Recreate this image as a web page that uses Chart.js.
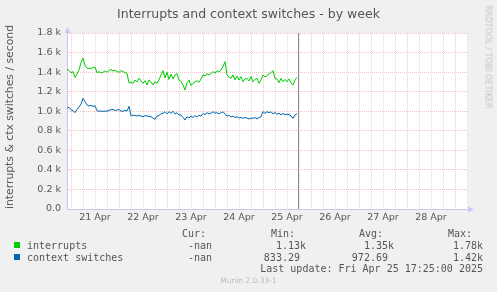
<!DOCTYPE html>
<html>
<head>
<meta charset="utf-8">
<script src="https://cdn.jsdelivr.net/npm/chart.js@4"></script>
<style>
    body { margin: 0; background: #f0f0f0; width: 497px; height: 292px; overflow: hidden; position: relative; font-family: "DejaVu Sans", sans-serif; }
    canvas { position: absolute; left: 0; top: 0; }
    .txt { position: absolute; white-space: pre; color: #555; }
    .mono { font-family: "DejaVu Sans Mono", monospace; font-size: 10px; line-height: 12px; }
    .num { text-align: right; }
    .swatch { position: absolute; width: 6px; height: 6px; }
</style>
</head>
<body>
<canvas id="chart" width="497" height="292"></canvas>

<div class="txt" style="left:0; width:497px; top:6px; text-align:center; font-size:12.5px; line-height:15px;">Interrupts and context switches - by week</div>
<div class="txt" style="left:10px; top:117px; font-size:10.8px; line-height:12px; transform: translate(-50%, -50%) rotate(-90deg);">interrupts &amp; ctx switches / second</div>
<div class="txt" style="left:488px; top:57px; font-size:8px; line-height:9px; color:#c4c4c4; transform: translate(-50%, -50%) rotate(90deg);">RRDTOOL / TOBI OETIKER</div>

<!-- legend / stats block -->
<div class="txt mono" style="left:182px; top:228px;">Cur:</div>
<div class="txt mono" style="left:271px; top:228px;">Min:</div>
<div class="txt mono" style="left:359px; top:228px;">Avg:</div>
<div class="txt mono" style="left:448px; top:228px;">Max:</div>

<div class="swatch" style="left:14px; top:242px; background:#00cc00;"></div>
<div class="txt mono" style="left:27px; top:240px;">interrupts</div>
<div class="txt mono" style="left:188px; top:240px;">-nan</div>
<div class="txt mono num" style="left:200px; width:106px; top:240px;">1.13k</div>
<div class="txt mono num" style="left:290px; width:104px; top:240px;">1.35k</div>
<div class="txt mono num" style="left:380px; width:103px; top:240px;">1.78k</div>

<div class="swatch" style="left:14px; top:254px; background:#0066b3;"></div>
<div class="txt mono" style="left:27px; top:252px;">context switches</div>
<div class="txt mono" style="left:188px; top:252px;">-nan</div>
<div class="txt mono num" style="left:200px; width:106px; top:252px;">833.29 </div>
<div class="txt mono num" style="left:290px; width:104px; top:252px;">972.69 </div>
<div class="txt mono num" style="left:380px; width:103px; top:252px;">1.42k</div>

<div class="txt mono num" style="left:200px; width:283px; top:263px;">Last update: Fri Apr 25 17:25:00 2025</div>
<div class="txt" style="left:0; width:497px; top:276px; text-align:center; font-size:7.5px; line-height:10px; color:#bbb;">Munin 2.0.33-1</div>

<script>
// hours relative to Mon 21 Apr 00:00, one sample per hour
const hours = Array.from({ length: 116 }, (_, i) => i - 2);

const interrupts = [
    1429, 1415, 1394, 1405, 1345, 1381, 1422, 1497, 1541, 1470,
    1439, 1439, 1435, 1450, 1452, 1394, 1405, 1390, 1398, 1412,
    1400, 1415, 1429, 1410, 1420, 1405, 1398, 1415, 1405, 1395,
    1388, 1290, 1295, 1285, 1319, 1300, 1337, 1310, 1285, 1312,
    1268, 1320, 1300, 1268, 1302, 1285, 1320, 1370, 1415, 1340,
    1400, 1325, 1380, 1330, 1371, 1385, 1320, 1305, 1268, 1217,
    1290, 1319, 1262, 1285, 1300, 1312, 1295, 1330, 1371, 1360,
    1385, 1370, 1385, 1405, 1390, 1415, 1400, 1420, 1456, 1507,
    1371, 1345, 1336, 1371, 1320, 1360, 1319, 1353, 1302, 1330,
    1336, 1310, 1353, 1302, 1326, 1336, 1285, 1319, 1371, 1350,
    1365, 1381, 1394, 1415, 1336, 1330, 1292, 1336, 1302, 1326,
    1300, 1330, 1290, 1268, 1319, 1347
];

const contextSwitches = [
    1030, 1040, 1015, 1006, 985, 1020, 1040, 1074, 1132, 1098,
    1064, 1053, 1060, 1050, 1055, 1006, 1000, 1003, 998, 1002,
    1000, 1010, 1015, 1020, 1006, 1012, 1018, 1002, 998, 1010,
    1000, 1050, 951, 961, 955, 951, 961, 950, 944, 955,
    951, 947, 944, 930, 917, 951, 955, 975, 980, 995,
    972, 995, 980, 1000, 972, 985, 961, 961, 937, 910,
    944, 930, 952, 935, 955, 940, 960, 950, 978, 965,
    985, 972, 980, 995, 980, 985, 972, 985, 995, 970,
    951, 958, 940, 951, 935, 944, 930, 937, 927, 937,
    930, 920, 930, 927, 935, 920, 935, 944, 995, 978,
    995, 985, 995, 972, 988, 968, 980, 961, 978, 962,
    970, 965, 952, 927, 961, 975
];

const dayLabels = ['21 Apr', '22 Apr', '23 Apr', '24 Apr', '25 Apr', '26 Apr', '27 Apr', '28 Apr'];
const nowHour = 113.42; // Fri 25 Apr 17:25

const majorGrid = 'rgba(235, 130, 130, 0.5)';
const minorGrid = 'rgba(170, 170, 170, 0.45)';
const axisColor = '#c8c8f4';

// white plot area, "now" rule and axis arrows
const munin = {
    id: 'munin',
    beforeDraw(chart) {
        const { ctx, chartArea: a } = chart;
        ctx.save();
        ctx.fillStyle = '#ffffff';
        ctx.fillRect(a.left, a.top, a.right - a.left, a.bottom - a.top);
        ctx.restore();
    },
    beforeDatasetsDraw(chart) {
        const { ctx, chartArea: a } = chart;
        const x = Math.round(chart.scales.x.getPixelForValue(nowHour)) + 0.5;
        ctx.save();
        ctx.strokeStyle = '#8c8c8c';
        ctx.lineWidth = 1;
        ctx.beginPath();
        ctx.moveTo(x, a.top);
        ctx.lineTo(x, a.bottom);
        ctx.stroke();
        ctx.restore();
    },
    afterDraw(chart) {
        const { ctx, chartArea: a } = chart;
        ctx.save();
        ctx.fillStyle = axisColor;
        ctx.beginPath();
        ctx.moveTo(a.left + 0.5, a.top - 6);
        ctx.lineTo(a.left - 2.5, a.top);
        ctx.lineTo(a.left + 3.5, a.top);
        ctx.fill();
        ctx.beginPath();
        ctx.moveTo(a.right + 6, a.bottom + 0.5);
        ctx.lineTo(a.right, a.bottom - 2.5);
        ctx.lineTo(a.right, a.bottom + 3.5);
        ctx.fill();
        ctx.restore();
    }
};

Chart.defaults.font.family = '"DejaVu Sans", sans-serif';
Chart.defaults.color = '#555';

new Chart(document.getElementById('chart'), {
    type: 'line',
    data: {
        labels: hours,
        datasets: [
            {
                label: 'interrupts',
                data: hours.map((h, i) => ({ x: h, y: interrupts[i] })),
                borderColor: '#00cc00',
                borderWidth: 1,
                pointRadius: 0,
                tension: 0
            },
            {
                label: 'context switches',
                data: hours.map((h, i) => ({ x: h, y: contextSwitches[i] })),
                borderColor: '#0066b3',
                borderWidth: 1,
                pointRadius: 0,
                tension: 0
            }
        ]
    },
    options: {
        responsive: false,
        animation: false,
        devicePixelRatio: 1,
        layout: { padding: { left: 0, top: 33, right: 29, bottom: 0 } },
        plugins: {
            legend: { display: false },
            tooltip: { enabled: false }
        },
        scales: {
            x: {
                type: 'linear',
                min: -2,
                max: 198.5,
                afterBuildTicks: scale => {
                    const ticks = [];
                    for (let h = 0; h <= 198; h += 6) ticks.push({ value: h });
                    scale.ticks = ticks;
                },
                afterFit: scale => { scale.height = 83; },
                ticks: {
                    autoSkip: false,
                    maxRotation: 0,
                    padding: 3,
                    font: { size: 9.5 },
                    callback: value => (value % 24 === 12 ? dayLabels[(value - 12) / 24] : '')
                },
                grid: {
                    drawTicks: false,
                    color: ctx => (ctx.tick && ctx.tick.value % 24 === 0 ? majorGrid : minorGrid)
                },
                border: { color: axisColor, dash: [1, 1] }
            },
            y: {
                min: 0,
                max: 1800,
                afterFit: scale => { scale.width = 67; },
                ticks: {
                    stepSize: 100,
                    padding: 6,
                    font: { size: 9.5 },
                    callback: value => {
                        if (value % 200 !== 0) return '';
                        return value === 0 ? '0.0' : (value / 1000).toFixed(1) + ' k';
                    }
                },
                grid: {
                    drawTicks: false,
                    color: ctx => (ctx.tick && ctx.tick.value % 200 === 0 ? majorGrid : minorGrid)
                },
                border: { color: axisColor, dash: [1, 1] }
            }
        }
    },
    plugins: [munin]
});
</script>
</body>
</html>
